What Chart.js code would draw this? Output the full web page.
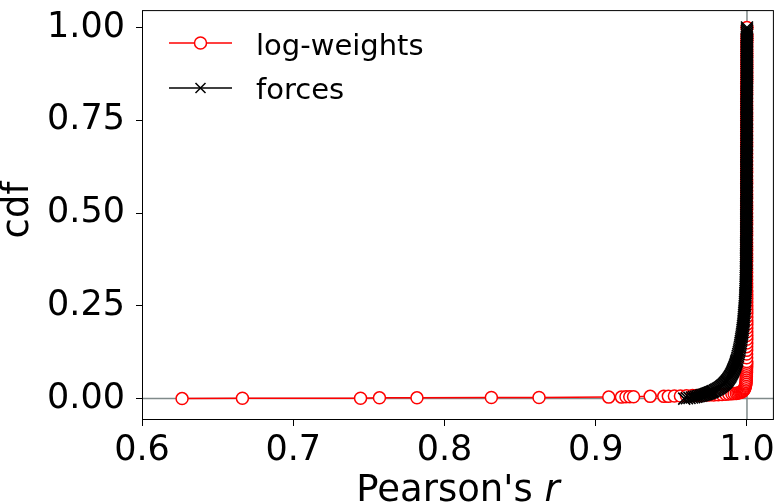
<!DOCTYPE html>
<html>
<head>
<meta charset="utf-8">
<title>cdf of Pearson's r</title>
<script src="https://cdn.jsdelivr.net/npm/chart.js"></script>
<style>
  html, body { margin: 0; padding: 0; background: #fff; }
  #wrap { width: 784px; height: 504px; }
</style>
</head>
<body>
<div id="wrap"><canvas id="cdf-chart" width="784" height="504"></canvas></div>
<script>
// Pearson's r (x) and cumulative fraction (y)
const logWeightsR = [
    0.6265, 0.6664, 0.7445, 0.7570, 0.7818, 0.8310, 0.8625, 0.9086, 0.9170, 0.9200,
    0.9225, 0.9250, 0.9360, 0.9450, 0.9480, 0.9520, 0.9560, 0.9600,
    0.9640, 0.9665, 0.9690, 0.9720, 0.9750, 0.9780, 0.9810, 0.9835, 0.9860, 0.9880,
    0.9900, 0.9915, 0.9930, 0.9940, 0.9950, 0.9958, 0.9965, 0.9970, 0.9975, 0.9979,
    0.9982, 0.9985, 0.9987, 0.9989, 0.9991, 0.9992, 0.9993, 0.9994, 0.9995, 0.9995,
    0.9996, 0.9996, 0.9997, 0.9997, 0.9997, 0.9998, 0.9998, 0.9998,
    0.9998, 0.9998, 0.9998, 0.9998, 0.9998, 0.9999, 0.9999, 0.9999, 0.9999, 0.9999,
    0.9999, 0.9999, 0.9999, 0.9999, 0.9999, 0.9999, 0.9999, 0.9999, 0.9999, 0.9999,
    0.9998, 0.9998, 0.9998, 0.9998, 0.9998, 0.9998, 0.9998, 0.9998, 0.9998, 0.9998,
    0.9998, 0.9998, 0.9998, 0.9998, 0.9998, 0.9998, 0.9998, 0.9998, 0.9998, 0.9998,
    0.9998, 0.9998, 0.9998, 0.9998, 0.9998, 0.9998, 0.9998, 0.9998, 0.9998, 0.9998,
    0.9998, 0.9998, 0.9998, 0.9998, 0.9998, 0.9998, 0.9998, 0.9998, 0.9998, 0.9998,
    0.9998, 0.9998, 0.9998, 0.9998, 0.9998, 0.9998, 0.9998, 0.9998, 0.9998, 0.9998,
    0.9998, 0.9998, 0.9998, 0.9998, 0.9998, 0.9998, 0.9999, 0.9999, 0.9999, 0.9999,
    0.9999, 0.9999, 0.9999, 0.9999, 0.9999, 0.9999, 0.9999, 1.0000, 1.0000, 1.0000
];
const logWeightsCdf = [
    0.0000, 0.0010, 0.0010, 0.0020, 0.0020, 0.0030, 0.0030, 0.0040, 0.0040, 0.0050,
    0.0050, 0.0050, 0.0060, 0.0060, 0.0060, 0.0070, 0.0070, 0.0075,
    0.0080, 0.0083, 0.0086, 0.0090, 0.0095, 0.0100, 0.0105, 0.0110, 0.0116, 0.0122,
    0.0128, 0.0134, 0.0140, 0.0150, 0.0160, 0.0170, 0.0180, 0.0195, 0.0210, 0.0230,
    0.0250, 0.0275, 0.0300, 0.0330, 0.0360, 0.0390, 0.0420, 0.0460, 0.0500, 0.0550,
    0.0600, 0.0650, 0.0700, 0.0750, 0.0800, 0.0850, 0.0900, 0.0950,
    0.10, 0.11, 0.12, 0.13, 0.14, 0.15, 0.16, 0.17, 0.18, 0.19,
    0.20, 0.21, 0.22, 0.23, 0.24, 0.25, 0.26, 0.27, 0.28, 0.29,
    0.30, 0.31, 0.32, 0.33, 0.34, 0.35, 0.36, 0.37, 0.38, 0.39,
    0.40, 0.41, 0.42, 0.43, 0.44, 0.45, 0.46, 0.47, 0.48, 0.49,
    0.50, 0.51, 0.52, 0.53, 0.54, 0.55, 0.56, 0.57, 0.58, 0.59,
    0.60, 0.61, 0.62, 0.63, 0.64, 0.65, 0.66, 0.67, 0.68, 0.69,
    0.70, 0.71, 0.72, 0.73, 0.74, 0.75, 0.76, 0.77, 0.78, 0.79,
    0.80, 0.81, 0.82, 0.83, 0.84, 0.85, 0.86, 0.87, 0.88, 0.89,
    0.90, 0.91, 0.92, 0.93, 0.94, 0.95, 0.96, 0.97, 0.98, 1.00
];

const forcesR = [
    0.9585, 0.9603, 0.9620, 0.9636, 0.9650, 0.9662, 0.9673, 0.9684, 0.9694, 0.9703,
    0.9712, 0.9720, 0.9728, 0.9735, 0.9742, 0.9749, 0.9755, 0.9761, 0.9767, 0.9773,
    0.9778,
    0.9788, 0.9797, 0.9806, 0.9814, 0.9821, 0.9828, 0.9834, 0.9840, 0.9846, 0.9851,
    0.9856, 0.9861, 0.9865, 0.9869, 0.9873,
    0.9878, 0.9883, 0.9888, 0.9892, 0.9896, 0.9900, 0.9904, 0.9907, 0.9910, 0.9913,
    0.9916, 0.9919, 0.9922, 0.9924, 0.9927, 0.9929, 0.9931,
    0.9934, 0.9937, 0.9940, 0.9943, 0.9946, 0.9949, 0.9951, 0.9954, 0.9956, 0.9958,
    0.9960, 0.9962, 0.9964, 0.9966, 0.9968, 0.9970, 0.9971, 0.9973, 0.9974, 0.9976,
    0.9977, 0.9978, 0.9979, 0.9980, 0.9981, 0.9982, 0.9983, 0.9984, 0.9985, 0.9986,
    0.9987, 0.9987, 0.9988, 0.9989, 0.9989, 0.9990, 0.9990, 0.9991, 0.9991, 0.9992,
    0.9992, 0.9992, 0.9993, 0.9993, 0.9993, 0.9993, 0.9994, 0.9994, 0.9994, 0.9994,
    0.9994, 0.9995, 0.9995, 0.9995, 0.9995, 0.9995, 0.9995, 0.9995, 0.9995, 0.9995,
    0.9995, 0.9995, 0.9995, 0.9995, 0.9996, 0.9996, 0.9996, 0.9996, 0.9996, 0.9996,
    0.9996, 0.9996, 0.9996, 0.9996, 0.9996, 0.9996, 0.9996, 0.9996, 0.9996, 0.9996,
    0.9996, 0.9996, 0.9996, 0.9996, 0.9996, 0.9997, 0.9997, 0.9997, 0.9997, 0.9997,
    0.9997, 0.9997, 0.9997, 0.9997, 0.9997, 0.9997, 0.9997, 0.9997, 0.9997, 0.9997,
    0.9997, 0.9997, 0.9997, 0.9997, 0.9997, 0.9997, 0.9997, 0.9997, 0.9997, 0.9997,
    0.9997, 0.9997, 0.9997, 0.9997, 0.9998, 0.9998, 0.9998, 0.9998, 0.9998, 0.9998,
    0.9998, 0.9998, 0.9998, 0.9998, 0.9998, 0.9998, 0.9998, 0.9998, 0.9998, 0.9998,
    0.9998, 0.9998, 0.9998, 0.9998, 0.9998, 0.9998, 0.9998, 0.9998, 0.9998, 0.9998,
    0.9998, 0.9998, 0.9998, 0.9998, 0.9998, 0.9999, 0.9999, 0.9999, 0.9999, 0.9999,
    0.9999, 0.9999, 0.9999, 0.9999, 0.9999, 0.9999, 0.9999, 0.9999, 0.9999, 0.9999,
    0.9999, 0.9999, 0.9999, 0.9999, 0.9999, 0.9999, 0.9999, 0.9999, 0.9999, 0.9999,
    0.9999, 0.9999, 0.9999, 0.9999, 0.9999, 1.0000, 1.0000, 1.0000, 1.0000, 1.0000
];
const forcesCdf = [
    0.000, 0.001, 0.002, 0.003, 0.004, 0.005, 0.006, 0.007, 0.008, 0.009,
    0.010, 0.011, 0.012, 0.013, 0.014, 0.015, 0.016, 0.017, 0.018, 0.019,
    0.020,
    0.022, 0.024, 0.026, 0.028, 0.030, 0.032, 0.034, 0.036, 0.038, 0.040,
    0.042, 0.044, 0.046, 0.048, 0.050,
    0.053, 0.056, 0.059, 0.062, 0.065, 0.068, 0.071, 0.074, 0.077, 0.080,
    0.083, 0.086, 0.089, 0.092, 0.095, 0.098, 0.101,
    0.105, 0.110, 0.115, 0.120, 0.125, 0.130, 0.135, 0.140, 0.145, 0.150,
    0.155, 0.160, 0.165, 0.170, 0.175, 0.180, 0.185, 0.190, 0.195, 0.200,
    0.205, 0.210, 0.215, 0.220, 0.225, 0.230, 0.235, 0.240, 0.245, 0.250,
    0.255, 0.260, 0.265, 0.270, 0.275, 0.280, 0.285, 0.290, 0.295, 0.300,
    0.305, 0.310, 0.315, 0.320, 0.325, 0.330, 0.335, 0.340, 0.345, 0.350,
    0.355, 0.360, 0.365, 0.370, 0.375, 0.380, 0.385, 0.390, 0.395, 0.400,
    0.405, 0.410, 0.415, 0.420, 0.425, 0.430, 0.435, 0.440, 0.445, 0.450,
    0.455, 0.460, 0.465, 0.470, 0.475, 0.480, 0.485, 0.490, 0.495, 0.500,
    0.505, 0.510, 0.515, 0.520, 0.525, 0.530, 0.535, 0.540, 0.545, 0.550,
    0.555, 0.560, 0.565, 0.570, 0.575, 0.580, 0.585, 0.590, 0.595, 0.600,
    0.605, 0.610, 0.615, 0.620, 0.625, 0.630, 0.635, 0.640, 0.645, 0.650,
    0.655, 0.660, 0.665, 0.670, 0.675, 0.680, 0.685, 0.690, 0.695, 0.700,
    0.705, 0.710, 0.715, 0.720, 0.725, 0.730, 0.735, 0.740, 0.745, 0.750,
    0.755, 0.760, 0.765, 0.770, 0.775, 0.780, 0.785, 0.790, 0.795, 0.800,
    0.805, 0.810, 0.815, 0.820, 0.825, 0.830, 0.835, 0.840, 0.845, 0.850,
    0.855, 0.860, 0.865, 0.870, 0.875, 0.880, 0.885, 0.890, 0.895, 0.900,
    0.905, 0.910, 0.915, 0.920, 0.925, 0.930, 0.935, 0.940, 0.945, 0.950,
    0.955, 0.960, 0.965, 0.970, 0.975, 0.980, 0.985, 0.990, 0.995, 1.000
];

const seriesNames = ['log-weights', 'forces'];
const xTicks = [0.6, 0.7, 0.8, 0.9, 1.0];
const yTicks = [0.00, 0.25, 0.50, 0.75, 1.00];
const xTitle = "Pearson's ";
const xTitleItalic = 'r';
const yTitle = 'cdf';

const FONT = "'DejaVu Sans', sans-serif";

function toPoints(xs, ys) {
    return xs.map((x, i) => ({ x: x, y: ys[i] }));
}

// frame, gray reference lines, legend and axis titles
const decorPlugin = {
    id: 'decor',
    beforeDatasetsDraw(chart) {
        const ctx = chart.ctx;
        const a = chart.chartArea;
        const xs = chart.scales.x, ys = chart.scales.y;
        ctx.save();
        ctx.strokeStyle = '#808a8a';
        ctx.lineWidth = 1.5;
        const y0 = ys.getPixelForValue(0);
        const x1 = xs.getPixelForValue(1.0);
        ctx.beginPath();
        ctx.moveTo(a.left, y0); ctx.lineTo(a.right, y0);
        ctx.moveTo(x1, a.top); ctx.lineTo(x1, a.bottom);
        ctx.stroke();
        ctx.restore();
    },
    afterDraw(chart) {
        const ctx = chart.ctx;
        const a = chart.chartArea;
        ctx.save();
        ctx.strokeStyle = '#000';
        ctx.lineWidth = 1;
        ctx.strokeRect(a.left + 0.5, a.top + 0.5, a.right - a.left - 1, a.bottom - a.top);

        // legend
        const rows = [
            { y: 43, base: 55, color: 'red', style: 'circle' },
            { y: 88, base: 99, color: '#000', style: 'cross' }
        ];
        rows.forEach((r, i) => {
            ctx.strokeStyle = r.color;
            ctx.lineWidth = 1.5;
            ctx.beginPath();
            ctx.moveTo(169, r.y); ctx.lineTo(232, r.y);
            ctx.stroke();
            if (r.style === 'circle') {
                ctx.fillStyle = '#fff';
                ctx.beginPath();
                ctx.arc(200.5, r.y, 6, 0, Math.PI * 2);
                ctx.fill();
                ctx.stroke();
            } else {
                ctx.beginPath();
                ctx.moveTo(195.5, r.y - 5); ctx.lineTo(205.5, r.y + 5);
                ctx.moveTo(195.5, r.y + 5); ctx.lineTo(205.5, r.y - 5);
                ctx.stroke();
            }
            ctx.fillStyle = '#000';
            ctx.font = '29px ' + FONT;
            ctx.textAlign = 'left';
            ctx.textBaseline = 'alphabetic';
            ctx.fillText(seriesNames[i], 256, r.base);
        });

        // x title with italic r
        ctx.fillStyle = '#000';
        ctx.textBaseline = 'alphabetic';
        ctx.font = '37px ' + FONT;
        const w1 = ctx.measureText(xTitle).width;
        ctx.font = 'italic 37px ' + FONT;
        const w2 = ctx.measureText(xTitleItalic).width;
        const cx = (a.left + a.right) / 2;
        let sx = cx - (w1 + w2) / 2;
        ctx.font = '37px ' + FONT;
        ctx.textAlign = 'left';
        ctx.fillText(xTitle, sx, 501);
        ctx.font = 'italic 37px ' + FONT;
        ctx.fillText(xTitleItalic, sx + w1, 501);

        // y title
        ctx.translate(18, 210);
        ctx.rotate(-Math.PI / 2);
        ctx.font = '37px ' + FONT;
        ctx.textAlign = 'center';
        ctx.textBaseline = 'middle';
        ctx.fillText(yTitle, 0, 0);
        ctx.restore();
    }
};

const ctx = document.getElementById('cdf-chart').getContext('2d');
const chart = new Chart(ctx, {
    type: 'scatter',
    data: {
        datasets: [{
            label: seriesNames[0],
            data: toPoints(logWeightsR, logWeightsCdf),
            showLine: true,
            borderColor: 'red',
            borderWidth: 1.5,
            pointStyle: 'circle',
            pointRadius: 6,
            pointBorderWidth: 1.5,
            pointBorderColor: 'red',
            pointBackgroundColor: '#fff',
            order: 2
        }, {
            label: seriesNames[1],
            data: toPoints(forcesR, forcesCdf),
            showLine: true,
            borderColor: '#000',
            borderWidth: 1.5,
            pointStyle: 'crossRot',
            pointRadius: 8.5,
            pointBorderWidth: 1.6,
            pointBorderColor: '#000',
            pointBackgroundColor: '#000',
            order: 1
        }]
    },
    options: {
        responsive: false,
        animation: false,
        events: [],
        layout: { padding: { left: 0, right: 6, top: 4, bottom: 0 } },
        plugins: { legend: { display: false }, tooltip: { enabled: false } },
        scales: {
            x: {
                type: 'linear',
                min: 0.6,
                max: 1.0178,
                afterBuildTicks: s => { s.ticks = xTicks.map(v => ({ value: v })); },
                afterFit: s => { s.height = 85; s.paddingLeft = 0; s.paddingRight = 0; },
                ticks: {
                    autoSkip: false,
                    maxRotation: 0,
                    padding: 4,
                    color: '#000',
                    font: { family: FONT, size: 35 },
                    callback: v => v.toFixed(1)
                },
                grid: { drawOnChartArea: false, tickLength: 7, tickColor: '#000', tickWidth: 1 },
                border: { display: false }
            },
            y: {
                type: 'linear',
                min: -0.055,
                max: 1.047,
                afterBuildTicks: s => { s.ticks = yTicks.map(v => ({ value: v })); },
                afterFit: s => { s.width = 142; s.paddingTop = 0; s.paddingBottom = 0; },
                ticks: {
                    autoSkip: false,
                    padding: 11,
                    color: '#000',
                    font: { family: FONT, size: 35 },
                    callback: v => v.toFixed(2)
                },
                grid: { drawOnChartArea: false, tickLength: 6, tickColor: '#000', tickWidth: 1 },
                border: { display: false }
            }
        }
    },
    plugins: [decorPlugin]
});
</script>
</body>
</html>
